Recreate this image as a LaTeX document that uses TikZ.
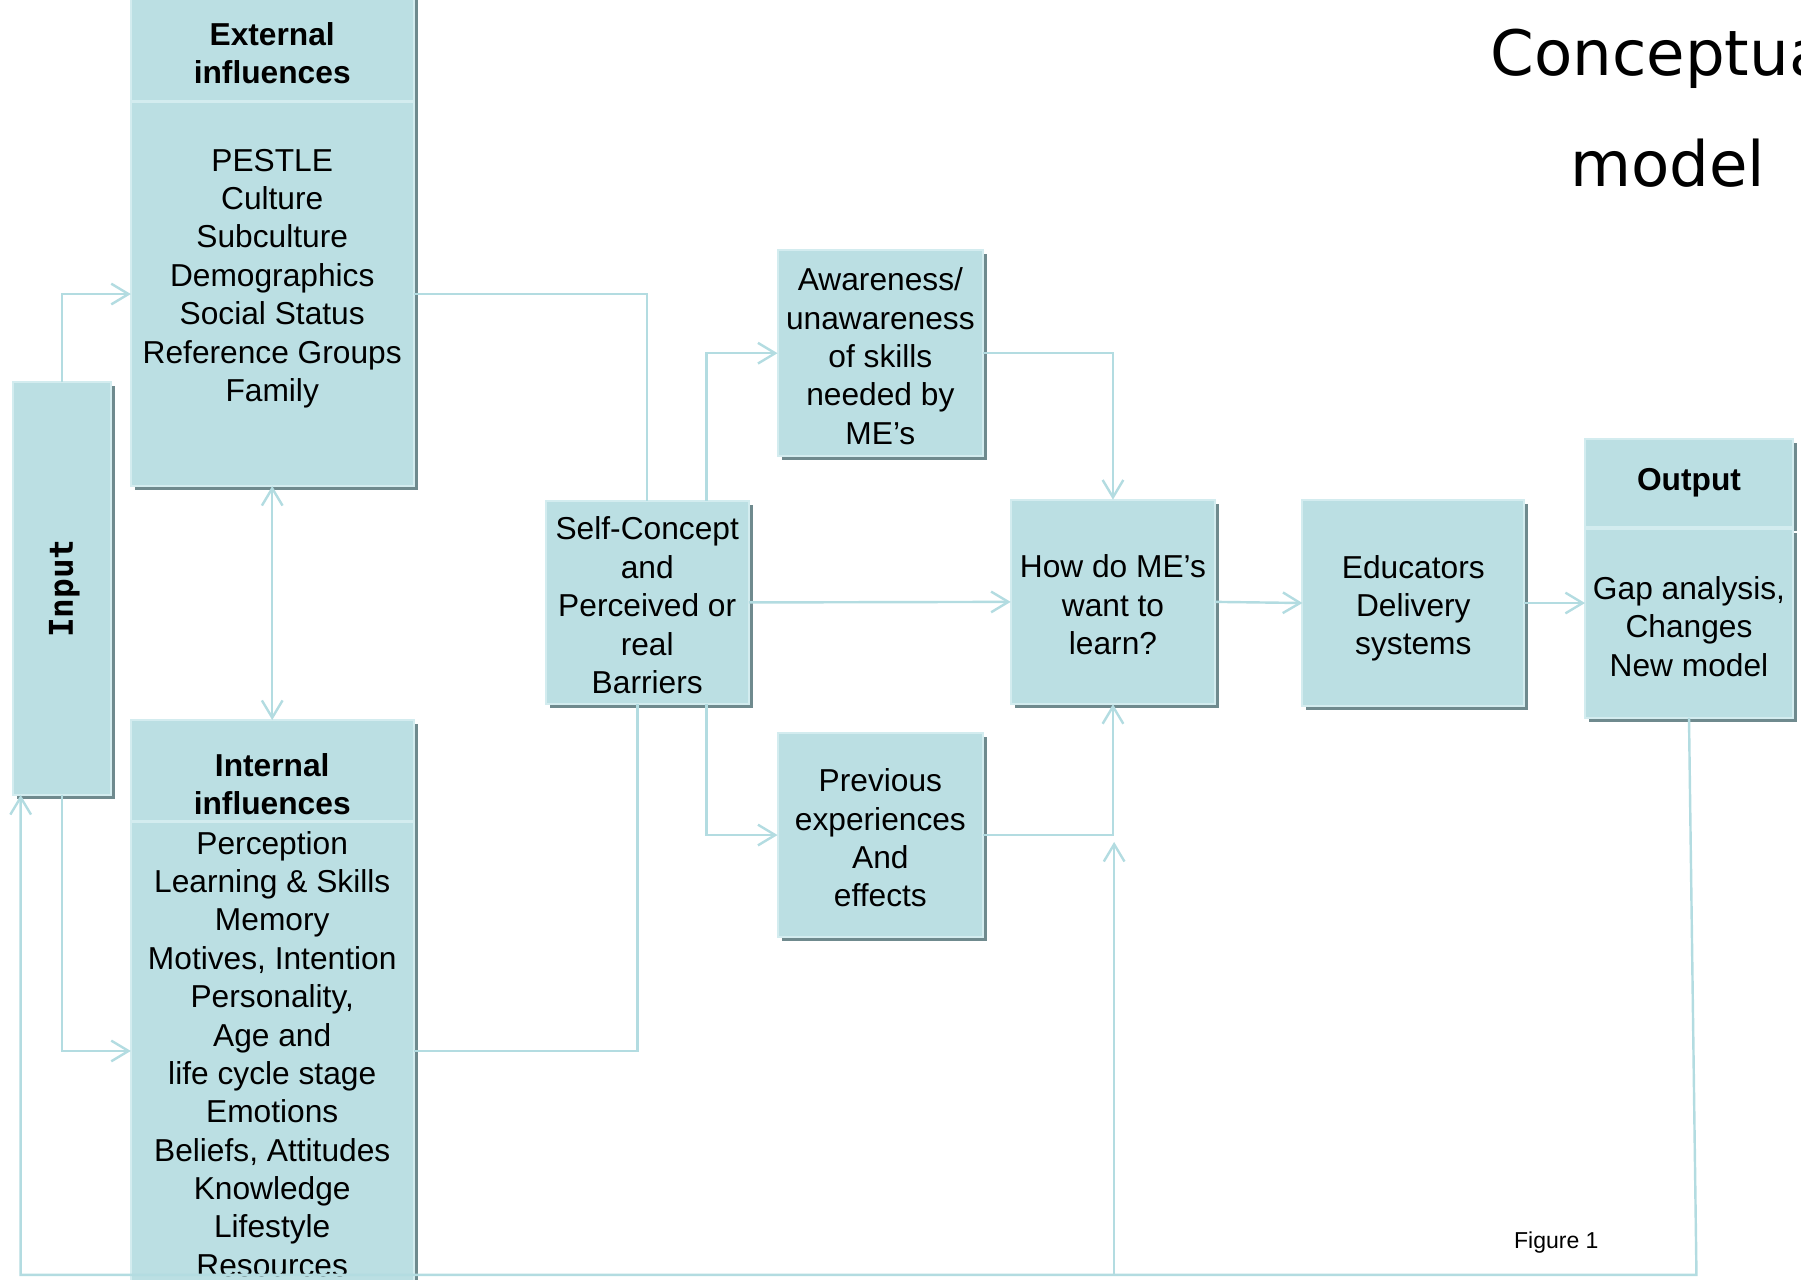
\documentclass[tikz,border=0pt]{standalone}
\usepackage{xcolor}
\usepackage{fontspec}
\setmainfont{Liberation Sans}
\newfontfamily\titlefont{DejaVu Sans}
\newfontfamily\inputfont{DejaVu Sans Mono}
\usepackage{tikz}
\usetikzlibrary{arrows.meta,shadows,positioning,calc}
\definecolor{boxfill}{HTML}{BBDFE3}
\definecolor{boxedge}{HTML}{D3ECEF}
\definecolor{boxshade}{HTML}{6F8A8E}
\definecolor{linkcol}{HTML}{B3DCE1}

\begin{document}
\begin{tikzpicture}[
			x = 0.01cm, y = -0.01cm,
			box/.style = {rectangle, fill=boxfill, draw=boxedge, line width=0.5pt,
				outer sep=0pt, inner sep=0pt,
				drop shadow={shadow xshift=0.35mm, shadow yshift=-0.35mm, fill=boxshade, opacity=1}},
			txt/.style = {align=center, inner sep=0pt, yshift=-0.25mm, font=\fontsize{7.85}{9.5}\selectfont},
			headtxt/.style = {align=center, inner sep=0pt, font=\fontsize{7.85}{9.4}\selectfont\bfseries},
			titletxt/.style = {align=center, inner sep=0pt, font=\titlefont\fontsize{15.5}{27.5}\selectfont},
			divider/.style = {draw=boxedge, line width=0.7pt},
			link/.style = {draw=linkcol, line width=0.6pt},
			flow/.style = {link, -{Straight Barb[length=1.5mm,width=1.8mm]}},
			biflow/.style = {link, {Straight Barb[length=1.5mm,width=1.8mm]}-{Straight Barb[length=1.5mm,width=1.8mm]}}]
			\useasboundingbox (0,0) rectangle (1568,1114);
			\clip (0,0) rectangle (1568,1114);

			\coordinate (extport) at (0,256);
			\coordinate (intport) at (0,915);
			\coordinate (extcut) at (0,88);
			\coordinate (intcut) at (0,715);
			\coordinate (fbl) at (18,1110);
			\coordinate (fbr) at (1477,1110);
			\coordinate (fbm) at (970,1110);
			\coordinate (fbtip) at (970,733);

			\node[titletxt] (title) at (1452,94) {Conceptual\\model};

			\node[box, minimum width=0.86cm, minimum height=3.59cm] (input) at (54,512.5) {};
			\node[inner sep=0pt, rotate=90, font=\inputfont\bfseries\fontsize{8.1}{9}\selectfont] (inputtxt) at ([xshift=0.02cm]input) {Input};

			\node[box, minimum width=2.46cm, minimum height=4.27cm] (ext) at (237,209.5) {};
			\draw[divider] (ext.west |- extcut) -- (ext.east |- extcut);
			\node[headtxt] (exthead) at (237,46) {External\\influences};
			\node[txt] (extbody) at (237,240) {PESTLE\\Culture\\Subculture\\Demographics\\Social Status\\Reference Groups\\Family};

			\node[box, minimum width=2.46cm, minimum height=4.98cm] (int) at (237,876) {};
			\draw[divider] (int.west |- intcut) -- (int.east |- intcut);
			\node[headtxt] (inthead) at (237,683) {Internal\\influences};
			\node[txt] (intbody) at (237,915) {Perception\\Learning \& Skills\\Memory\\Motives, Intention\\Personality,\\Age and\\life cycle stage\\Emotions\\Beliefs, Attitudes\\Knowledge\\Lifestyle\\Resources};

			\node[box, minimum width=1.77cm, minimum height=1.77cm] (selfc) at (563.5,524.5) {};
			\node[txt] (selfctxt) at (selfc) {Self-Concept\\and\\Perceived or\\real\\Barriers};

			\node[box, minimum width=1.79cm, minimum height=1.79cm] (aware) at (766.5,307.5) {};
			\node[txt] (awaretxt) at (aware) {Awareness/\\unawareness\\of skills\\needed by\\ME’s};

			\node[box, minimum width=1.79cm, minimum height=1.78cm] (prev) at (766.5,727) {};
			\node[txt] (prevtxt) at (prev) {Previous\\experiences\\And\\effects};

			\node[box, minimum width=1.78cm, minimum height=1.78cm] (how) at (969,524) {};
			\node[txt] (howtxt) at (how) {How do ME’s\\want to\\learn?};

			\node[box, minimum width=1.93cm, minimum height=1.80cm] (edu) at (1230.5,525) {};
			\node[txt, yshift=-0.2mm] (edutxt) at (edu) {Educators\\Delivery\\systems};

			\node[box, minimum width=1.81cm, minimum height=0.77cm] (outhead) at (1470.5,420.5) {};
			\node[headtxt] (outheadtxt) at (outhead) {Output};
			\node[box, minimum width=1.81cm, minimum height=1.64cm] (outbody) at (1470.5,543) {};
			\node[txt] (outbodytxt) at (outbody) {Gap analysis,\\Changes\\New model};

			\node[inner sep=0pt, font=\fontsize{5.7}{7}\selectfont] (fig) at (1355,1082) {Figure 1};

			\draw[flow] (input.north) |- (ext.west |- extport);
			\draw[flow] (input.south) |- (int.west |- intport);
			\draw[biflow] (ext.south) -- (int.north);

			\draw[link] (ext.east |- extport) -| (selfc.north);
			\draw[link] (int.east |- intport) -| ([xshift=-0.085cm]selfc.south);

			\draw[flow] ([xshift=0.515cm]selfc.north) |- (aware.west);
			\draw[flow] ([xshift=0.515cm]selfc.south) |- (prev.west);
			\draw[flow] (selfc.east) -- (how.west);
			\draw[flow] (aware.east) -| (how.north);
			\draw[flow] (prev.east) -| (how.south);
			\draw[flow] (how.east) -- (edu.west);
			\draw[flow] (edu.east) -- (edu.east -| outbody.west);

			\draw[flow] (outbody.south) -- (fbr) -- (fbl) -- (fbl |- input.south);
			\draw[flow] (fbm) -- (fbtip);

		\end{tikzpicture}
\end{document}
